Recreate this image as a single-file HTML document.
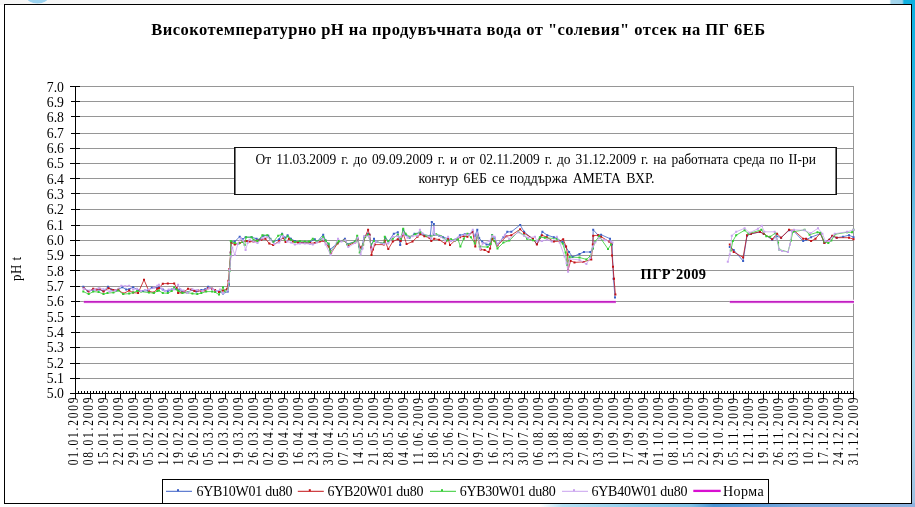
<!DOCTYPE html>
<html lang="bg"><head><meta charset="utf-8"><title>Високотемпературно рН</title>
<style>html,body{margin:0;padding:0;background:#fff;overflow:hidden}svg{display:block}text{font-family:'Liberation Serif','DejaVu Serif',serif;fill:#000}</style></head><body>
<svg width="915" height="507" viewBox="0 0 915 507">
<defs><linearGradient id="gr" x1="0" y1="0" x2="0" y2="1"><stop offset="0" stop-color="#0cb0e0"/><stop offset="0.14" stop-color="#1fb4e0"/><stop offset="0.32" stop-color="#50b0dc"/><stop offset="0.5" stop-color="#7fcbea"/><stop offset="0.71" stop-color="#a8daee"/><stop offset="0.87" stop-color="#a6d2ea"/><stop offset="1" stop-color="#9cbee0"/></linearGradient><linearGradient id="gb" x1="0" y1="0" x2="1" y2="0"><stop offset="0" stop-color="#ffffff"/><stop offset="0.59" stop-color="#ffffff"/><stop offset="0.615" stop-color="#b4e0f3"/><stop offset="0.70" stop-color="#8ccbea"/><stop offset="0.755" stop-color="#7fc2e6"/><stop offset="0.78" stop-color="#4a94d2"/><stop offset="0.82" stop-color="#5c9cd8"/><stop offset="0.87" stop-color="#7ba9dc"/><stop offset="1" stop-color="#8fb4e0"/></linearGradient><linearGradient id="gt" x1="0" y1="0" x2="1" y2="0"><stop offset="0" stop-color="#f6f6f6"/><stop offset="0.972" stop-color="#ffffff"/><stop offset="0.974" stop-color="#a6d6ec"/><stop offset="0.986" stop-color="#9dd3ec"/><stop offset="0.988" stop-color="#0fb0e0"/><stop offset="1" stop-color="#0fb0e0"/></linearGradient></defs>
<rect x="0" y="0" width="915" height="507" fill="#fff"/>
<rect x="0" y="0" width="915" height="5" fill="url(#gt)"/>
<ellipse cx="37.5" cy="-3" rx="11" ry="6.5" fill="#9bd2ef"/>
<rect x="911" y="0" width="4" height="507" fill="url(#gr)"/>
<rect x="0" y="503" width="915" height="4" fill="url(#gb)"/>
<rect x="4.5" y="4.5" width="907" height="499" fill="#fff" stroke="#000" stroke-width="1"/>
<text x="458.2" y="34.7" text-anchor="middle" font-size="16.5" font-weight="bold" textLength="614" lengthAdjust="spacing">Високотемпературно рН на продувъчната вода от "солевия" отсек на ПГ 6ЕБ</text>
<path d="M76 86.5H854M76 101.5H854M76 116.5H854M76 133.5H854M76 148.5H854M76 163.5H854M76 178.5H854M76 193.5H854M76 209.5H854M76 225.5H854M76 240.5H854M76 255.5H854M76 270.5H854M76 286.5H854M76 301.5H854M76 316.5H854M76 332.5H854M76 347.5H854M76 363.5H854M76 378.5H854M853.5 86V393" stroke="#969696" stroke-width="1" fill="none" shape-rendering="crispEdges"/>
<path d="M75.5 86V394M70 393.5H854M70 86.5H80M71 101.5H80M71 116.5H80M71 133.5H80M70 148.5H80M70 163.5H80M70 178.5H80M71 193.5H80M71 209.5H80M71 225.5H80M70 240.5H80M70 255.5H80M70 270.5H80M70 286.5H80M71 301.5H80M71 316.5H80M71 332.5H80M70 347.5H80M70 363.5H80M70 378.5H80" stroke="#000" stroke-width="1" fill="none" shape-rendering="crispEdges"/>
<path d="M78.5 391V393M81.5 391V393M84.5 391V393M87.5 391V393M93.5 391V393M96.5 391V393M99.5 391V393M102.5 391V393M108.5 391V393M111.5 391V393M114.5 391V393M117.5 391V393M123.5 391V393M126.5 391V393M129.5 391V393M132.5 391V393M138.5 391V393M141.5 391V393M144.5 391V393M147.5 391V393M153.5 391V393M156.5 391V393M159.5 391V393M162.5 391V393M168.5 391V393M171.5 391V393M174.5 391V393M177.5 391V393M183.5 391V393M186.5 391V393M189.5 391V393M192.5 391V393M198.5 391V393M201.5 391V393M204.5 391V393M207.5 391V393M213.5 391V393M216.5 391V393M219.5 391V393M222.5 391V393M228.5 391V393M231.5 391V393M234.5 391V393M237.5 391V393M243.5 391V393M246.5 391V393M249.5 391V393M252.5 391V393M258.5 391V393M261.5 391V393M264.5 391V393M267.5 391V393M272.5 391V393M275.5 391V393M278.5 391V393M281.5 391V393M287.5 391V393M290.5 391V393M293.5 391V393M296.5 391V393M302.5 391V393M305.5 391V393M308.5 391V393M311.5 391V393M317.5 391V393M320.5 391V393M323.5 391V393M326.5 391V393M332.5 391V393M335.5 391V393M338.5 391V393M341.5 391V393M347.5 391V393M350.5 391V393M353.5 391V393M356.5 391V393M362.5 391V393M365.5 391V393M368.5 391V393M371.5 391V393M377.5 391V393M380.5 391V393M383.5 391V393M386.5 391V393M392.5 391V393M395.5 391V393M398.5 391V393M401.5 391V393M407.5 391V393M410.5 391V393M413.5 391V393M416.5 391V393M422.5 391V393M425.5 391V393M428.5 391V393M431.5 391V393M437.5 391V393M440.5 391V393M443.5 391V393M446.5 391V393M452.5 391V393M455.5 391V393M458.5 391V393M461.5 391V393M467.5 391V393M470.5 391V393M473.5 391V393M476.5 391V393M482.5 391V393M485.5 391V393M488.5 391V393M491.5 391V393M497.5 391V393M500.5 391V393M503.5 391V393M506.5 391V393M512.5 391V393M515.5 391V393M518.5 391V393M521.5 391V393M527.5 391V393M530.5 391V393M533.5 391V393M536.5 391V393M542.5 391V393M545.5 391V393M548.5 391V393M551.5 391V393M557.5 391V393M560.5 391V393M563.5 391V393M566.5 391V393M572.5 391V393M575.5 391V393M578.5 391V393M581.5 391V393M587.5 391V393M590.5 391V393M593.5 391V393M596.5 391V393M602.5 391V393M605.5 391V393M608.5 391V393M611.5 391V393M617.5 391V393M620.5 391V393M623.5 391V393M626.5 391V393M632.5 391V393M635.5 391V393M638.5 391V393M641.5 391V393M647.5 391V393M650.5 391V393M653.5 391V393M656.5 391V393M661.5 391V393M664.5 391V393M667.5 391V393M670.5 391V393M676.5 391V393M679.5 391V393M682.5 391V393M685.5 391V393M691.5 391V393M694.5 391V393M697.5 391V393M700.5 391V393M706.5 391V393M709.5 391V393M712.5 391V393M715.5 391V393M721.5 391V393M724.5 391V393M727.5 391V393M730.5 391V393M736.5 391V393M739.5 391V393M742.5 391V393M745.5 391V393M751.5 391V393M754.5 391V393M757.5 391V393M760.5 391V393M766.5 391V393M769.5 391V393M772.5 391V393M775.5 391V393M781.5 391V393M784.5 391V393M787.5 391V393M790.5 391V393M796.5 391V393M799.5 391V393M802.5 391V393M805.5 391V393M811.5 391V393M814.5 391V393M817.5 391V393M820.5 391V393M826.5 391V393M829.5 391V393M832.5 391V393M835.5 391V393M841.5 391V393M844.5 391V393M847.5 391V393M850.5 391V393" stroke="#000" stroke-width="1" fill="none" shape-rendering="crispEdges"/>
<path d="M75.5 391V399M90.5 391V399M105.5 391V399M120.5 391V399M135.5 391V399M150.5 391V399M165.5 391V399M180.5 391V399M195.5 391V399M210.5 391V399M225.5 391V399M240.5 391V399M255.5 391V399M270.5 391V399M284.5 391V399M299.5 391V399M314.5 391V399M329.5 391V399M344.5 391V399M359.5 391V399M374.5 391V399M389.5 391V399M404.5 391V399M419.5 391V399M434.5 391V399M449.5 391V399M464.5 391V399M479.5 391V399M494.5 391V399M509.5 391V399M524.5 391V399M539.5 391V399M554.5 391V399M569.5 391V399M584.5 391V399M599.5 391V399M614.5 391V399M629.5 391V399M644.5 391V399M659.5 391V399M673.5 391V399M688.5 391V399M703.5 391V399M718.5 391V399M733.5 391V399M748.5 391V399M763.5 391V399M778.5 391V399M793.5 391V399M808.5 391V399M823.5 391V399M838.5 391V399M853.5 391V399" stroke="#000" stroke-width="1" fill="none" shape-rendering="crispEdges"/>
<g font-size="14.2" text-anchor="end">
<text transform="translate(64.0 91.7) scale(0.97 1)">7.0</text>
<text transform="translate(64.0 107.0) scale(0.97 1)">6.9</text>
<text transform="translate(64.0 122.3) scale(0.97 1)">6.8</text>
<text transform="translate(64.0 137.7) scale(0.97 1)">6.7</text>
<text transform="translate(64.0 153.0) scale(0.97 1)">6.6</text>
<text transform="translate(64.0 168.3) scale(0.97 1)">6.5</text>
<text transform="translate(64.0 183.6) scale(0.97 1)">6.4</text>
<text transform="translate(64.0 199.0) scale(0.97 1)">6.3</text>
<text transform="translate(64.0 214.3) scale(0.97 1)">6.2</text>
<text transform="translate(64.0 229.6) scale(0.97 1)">6.1</text>
<text transform="translate(64.0 244.9) scale(0.97 1)">6.0</text>
<text transform="translate(64.0 260.3) scale(0.97 1)">5.9</text>
<text transform="translate(64.0 275.6) scale(0.97 1)">5.8</text>
<text transform="translate(64.0 290.9) scale(0.97 1)">5.7</text>
<text transform="translate(64.0 306.2) scale(0.97 1)">5.6</text>
<text transform="translate(64.0 321.6) scale(0.97 1)">5.5</text>
<text transform="translate(64.0 336.9) scale(0.97 1)">5.4</text>
<text transform="translate(64.0 352.2) scale(0.97 1)">5.3</text>
<text transform="translate(64.0 367.5) scale(0.97 1)">5.2</text>
<text transform="translate(64.0 382.9) scale(0.97 1)">5.1</text>
<text transform="translate(64.0 398.2) scale(0.97 1)">5.0</text>
</g>
<text transform="translate(21.3 281) rotate(-90) scale(0.88 1)" font-size="14.667" letter-spacing="0.6">pH t</text>
<g font-size="13.6">
<text transform="translate(78.30 465.2) rotate(-90) scale(0.84 1)" letter-spacing="2.15">01.01.2009</text>
<text transform="translate(93.29 465.2) rotate(-90) scale(0.84 1)" letter-spacing="2.15">08.01.2009</text>
<text transform="translate(108.28 465.2) rotate(-90) scale(0.84 1)" letter-spacing="2.15">15.01.2009</text>
<text transform="translate(123.27 465.2) rotate(-90) scale(0.84 1)" letter-spacing="2.15">22.01.2009</text>
<text transform="translate(138.25 465.2) rotate(-90) scale(0.84 1)" letter-spacing="2.15">29.01.2009</text>
<text transform="translate(153.24 465.2) rotate(-90) scale(0.84 1)" letter-spacing="2.15">05.02.2009</text>
<text transform="translate(168.23 465.2) rotate(-90) scale(0.84 1)" letter-spacing="2.15">12.02.2009</text>
<text transform="translate(183.22 465.2) rotate(-90) scale(0.84 1)" letter-spacing="2.15">19.02.2009</text>
<text transform="translate(198.21 465.2) rotate(-90) scale(0.84 1)" letter-spacing="2.15">26.02.2009</text>
<text transform="translate(213.20 465.2) rotate(-90) scale(0.84 1)" letter-spacing="2.15">05.03.2009</text>
<text transform="translate(228.19 465.2) rotate(-90) scale(0.84 1)" letter-spacing="2.15">12.03.2009</text>
<text transform="translate(243.17 465.2) rotate(-90) scale(0.84 1)" letter-spacing="2.15">19.03.2009</text>
<text transform="translate(258.16 465.2) rotate(-90) scale(0.84 1)" letter-spacing="2.15">26.03.2009</text>
<text transform="translate(273.15 465.2) rotate(-90) scale(0.84 1)" letter-spacing="2.15">02.04.2009</text>
<text transform="translate(288.14 465.2) rotate(-90) scale(0.84 1)" letter-spacing="2.15">09.04.2009</text>
<text transform="translate(303.13 465.2) rotate(-90) scale(0.84 1)" letter-spacing="2.15">16.04.2009</text>
<text transform="translate(318.12 465.2) rotate(-90) scale(0.84 1)" letter-spacing="2.15">23.04.2009</text>
<text transform="translate(333.11 465.2) rotate(-90) scale(0.84 1)" letter-spacing="2.15">30.04.2009</text>
<text transform="translate(348.09 465.2) rotate(-90) scale(0.84 1)" letter-spacing="2.15">07.05.2009</text>
<text transform="translate(363.08 465.2) rotate(-90) scale(0.84 1)" letter-spacing="2.15">14.05.2009</text>
<text transform="translate(378.07 465.2) rotate(-90) scale(0.84 1)" letter-spacing="2.15">21.05.2009</text>
<text transform="translate(393.06 465.2) rotate(-90) scale(0.84 1)" letter-spacing="2.15">28.05.2009</text>
<text transform="translate(408.05 465.2) rotate(-90) scale(0.84 1)" letter-spacing="2.15">04.06.2009</text>
<text transform="translate(423.04 465.2) rotate(-90) scale(0.84 1)" letter-spacing="2.15">11.06.2009</text>
<text transform="translate(438.02 465.2) rotate(-90) scale(0.84 1)" letter-spacing="2.15">18.06.2009</text>
<text transform="translate(453.01 465.2) rotate(-90) scale(0.84 1)" letter-spacing="2.15">25.06.2009</text>
<text transform="translate(468.00 465.2) rotate(-90) scale(0.84 1)" letter-spacing="2.15">02.07.2009</text>
<text transform="translate(482.99 465.2) rotate(-90) scale(0.84 1)" letter-spacing="2.15">09.07.2009</text>
<text transform="translate(497.98 465.2) rotate(-90) scale(0.84 1)" letter-spacing="2.15">16.07.2009</text>
<text transform="translate(512.97 465.2) rotate(-90) scale(0.84 1)" letter-spacing="2.15">23.07.2009</text>
<text transform="translate(527.96 465.2) rotate(-90) scale(0.84 1)" letter-spacing="2.15">30.07.2009</text>
<text transform="translate(542.94 465.2) rotate(-90) scale(0.84 1)" letter-spacing="2.15">06.08.2009</text>
<text transform="translate(557.93 465.2) rotate(-90) scale(0.84 1)" letter-spacing="2.15">13.08.2009</text>
<text transform="translate(572.92 465.2) rotate(-90) scale(0.84 1)" letter-spacing="2.15">20.08.2009</text>
<text transform="translate(587.91 465.2) rotate(-90) scale(0.84 1)" letter-spacing="2.15">27.08.2009</text>
<text transform="translate(602.90 465.2) rotate(-90) scale(0.84 1)" letter-spacing="2.15">03.09.2009</text>
<text transform="translate(617.89 465.2) rotate(-90) scale(0.84 1)" letter-spacing="2.15">10.09.2009</text>
<text transform="translate(632.88 465.2) rotate(-90) scale(0.84 1)" letter-spacing="2.15">17.09.2009</text>
<text transform="translate(647.86 465.2) rotate(-90) scale(0.84 1)" letter-spacing="2.15">24.09.2009</text>
<text transform="translate(662.85 465.2) rotate(-90) scale(0.84 1)" letter-spacing="2.15">01.10.2009</text>
<text transform="translate(677.84 465.2) rotate(-90) scale(0.84 1)" letter-spacing="2.15">08.10.2009</text>
<text transform="translate(692.83 465.2) rotate(-90) scale(0.84 1)" letter-spacing="2.15">15.10.2009</text>
<text transform="translate(707.82 465.2) rotate(-90) scale(0.84 1)" letter-spacing="2.15">22.10.2009</text>
<text transform="translate(722.81 465.2) rotate(-90) scale(0.84 1)" letter-spacing="2.15">29.10.2009</text>
<text transform="translate(737.80 465.2) rotate(-90) scale(0.84 1)" letter-spacing="2.15">05.11.2009</text>
<text transform="translate(752.78 465.2) rotate(-90) scale(0.84 1)" letter-spacing="2.15">12.11.2009</text>
<text transform="translate(767.77 465.2) rotate(-90) scale(0.84 1)" letter-spacing="2.15">19.11.2009</text>
<text transform="translate(782.76 465.2) rotate(-90) scale(0.84 1)" letter-spacing="2.15">26.11.2009</text>
<text transform="translate(797.75 465.2) rotate(-90) scale(0.84 1)" letter-spacing="2.15">03.12.2009</text>
<text transform="translate(812.74 465.2) rotate(-90) scale(0.84 1)" letter-spacing="2.15">10.12.2009</text>
<text transform="translate(827.73 465.2) rotate(-90) scale(0.84 1)" letter-spacing="2.15">17.12.2009</text>
<text transform="translate(842.72 465.2) rotate(-90) scale(0.84 1)" letter-spacing="2.15">24.12.2009</text>
<text transform="translate(857.70 465.2) rotate(-90) scale(0.84 1)" letter-spacing="2.15">31.12.2009</text>
</g>
<path d="M83.8 301.85H615.9M729.8 301.85H854" stroke="#fbe3fb" stroke-width="4" fill="none"/>
<path d="M83.8 301.85H615.9M729.8 301.85H854" stroke="#c21fc2" stroke-width="1.9" fill="none"/>
<path d="M83.3 286.7L87.8 291.1L92.7 290.1L98.6 289.6L103.5 291.1L108.0 286.7L111.4 289.6L116.3 290.6L122.3 287.2L126.2 289.6L129.2 289.2L133.1 287.2L138.1 290.1L143.0 291.1L147.9 290.6L151.8 287.7L157.3 287.7L158.9 287.2L162.8 289.6L167.8 291.1L171.7 289.6L175.6 288.7L179.6 289.6L182.5 291.6L187.5 292.6L191.4 290.1L196.3 291.6L201.3 290.1L205.2 289.2L208.2 286.7L212.1 288.7L216.1 291.1L219.0 291.6L223.0 293.6L227.9 291.6L228.9 284.7L230.7 252.5L231.3 242.1L234.8 241.6L239.7 236.7L242.7 239.2L245.6 237.2L251.6 237.2L256.5 238.7L259.4 239.7L263.4 235.7L268.3 235.7L270.3 238.7L273.2 242.1L279.2 239.2L282.1 233.7L285.1 237.7L287.6 235.2L291.0 238.7L294.9 241.1L298.9 242.1L304.8 242.6L309.9 242.1L314.8 239.2L316.8 242.1L323.2 234.7L325.6 240.6L328.6 244.6L330.1 249.5L337.5 243.1L341.4 241.1L344.9 238.7L347.3 244.1L355.2 241.6L357.7 238.7L359.2 246.6L361.6 248.5L364.1 236.7L368.1 233.7L369.5 234.7L371.0 246.6L374.0 238.7L375.9 241.6L383.8 243.6L385.3 237.7L388.3 241.6L393.8 233.7L397.8 232.3L400.2 245.1L403.2 229.8L405.6 234.7L409.6 237.7L414.5 233.7L419.4 232.8L424.4 235.2L430.3 235.7L431.8 221.9L433.8 223.9L434.2 234.7L439.2 235.7L443.1 237.2L448.1 238.7L451.0 240.6L454.9 239.7L459.9 235.2L464.8 234.2L468.9 234.2L472.8 231.8L474.8 236.2L477.3 229.8L479.2 238.2L482.2 241.6L486.6 244.6L489.6 244.6L492.1 235.2L494.5 237.7L497.5 244.6L503.4 237.2L507.3 231.8L511.3 231.8L520.2 224.9L524.1 231.8L533.0 239.2L536.9 244.1L539.9 237.7L542.4 231.8L547.3 235.2L553.8 237.2L556.8 238.2L562.7 242.1L565.6 246.6L569.1 252.0L572.5 256.9L579.5 253.9L583.9 252.0L590.3 252.0L592.8 248.5L593.2 229.8L598.2 235.2L601.1 234.7L610.0 238.7L612.0 244.6L613.5 278.7L615.0 297.4" stroke="#3b5fc6" stroke-width="0.8" fill="none" stroke-linejoin="round"/>
<path d="M82.3 285.7h2v2h-2zM86.8 290.1h2v2h-2zM91.7 289.1h2v2h-2zM97.6 288.6h2v2h-2zM102.5 290.1h2v2h-2zM107.0 285.7h2v2h-2zM110.4 288.6h2v2h-2zM115.3 289.6h2v2h-2zM121.3 286.2h2v2h-2zM125.2 288.6h2v2h-2zM128.2 288.2h2v2h-2zM132.1 286.2h2v2h-2zM137.1 289.1h2v2h-2zM142.0 290.1h2v2h-2zM146.9 289.6h2v2h-2zM150.8 286.7h2v2h-2zM156.3 286.7h2v2h-2zM157.9 286.2h2v2h-2zM161.8 288.6h2v2h-2zM166.8 290.1h2v2h-2zM170.7 288.6h2v2h-2zM174.6 287.7h2v2h-2zM178.6 288.6h2v2h-2zM181.5 290.6h2v2h-2zM186.5 291.6h2v2h-2zM190.4 289.1h2v2h-2zM195.3 290.6h2v2h-2zM200.3 289.1h2v2h-2zM204.2 288.2h2v2h-2zM207.2 285.7h2v2h-2zM211.1 287.7h2v2h-2zM215.1 290.1h2v2h-2zM218.0 290.6h2v2h-2zM222.0 292.6h2v2h-2zM226.9 290.6h2v2h-2zM227.9 283.7h2v2h-2zM229.7 251.5h2v2h-2zM230.3 241.1h2v2h-2zM233.8 240.6h2v2h-2zM238.7 235.7h2v2h-2zM241.7 238.2h2v2h-2zM244.6 236.2h2v2h-2zM250.6 236.2h2v2h-2zM255.5 237.7h2v2h-2zM258.4 238.7h2v2h-2zM262.4 234.7h2v2h-2zM267.3 234.7h2v2h-2zM269.3 237.7h2v2h-2zM272.2 241.1h2v2h-2zM278.2 238.2h2v2h-2zM281.1 232.7h2v2h-2zM284.1 236.7h2v2h-2zM286.6 234.2h2v2h-2zM290.0 237.7h2v2h-2zM293.9 240.1h2v2h-2zM297.9 241.1h2v2h-2zM303.8 241.6h2v2h-2zM308.9 241.1h2v2h-2zM313.8 238.2h2v2h-2zM315.8 241.1h2v2h-2zM322.2 233.7h2v2h-2zM324.6 239.6h2v2h-2zM327.6 243.6h2v2h-2zM329.1 248.5h2v2h-2zM336.5 242.1h2v2h-2zM340.4 240.1h2v2h-2zM343.9 237.7h2v2h-2zM346.3 243.1h2v2h-2zM354.2 240.6h2v2h-2zM356.7 237.7h2v2h-2zM358.2 245.6h2v2h-2zM360.6 247.5h2v2h-2zM363.1 235.7h2v2h-2zM367.1 232.7h2v2h-2zM368.5 233.7h2v2h-2zM370.0 245.6h2v2h-2zM373.0 237.7h2v2h-2zM374.9 240.6h2v2h-2zM382.8 242.6h2v2h-2zM384.3 236.7h2v2h-2zM387.3 240.6h2v2h-2zM392.8 232.7h2v2h-2zM396.8 231.3h2v2h-2zM399.2 244.1h2v2h-2zM402.2 228.8h2v2h-2zM404.6 233.7h2v2h-2zM408.6 236.7h2v2h-2zM413.5 232.7h2v2h-2zM418.4 231.8h2v2h-2zM423.4 234.2h2v2h-2zM429.3 234.7h2v2h-2zM430.8 220.9h2v2h-2zM432.8 222.9h2v2h-2zM433.2 233.7h2v2h-2zM438.2 234.7h2v2h-2zM442.1 236.2h2v2h-2zM447.1 237.7h2v2h-2zM450.0 239.6h2v2h-2zM453.9 238.7h2v2h-2zM458.9 234.2h2v2h-2zM463.8 233.2h2v2h-2zM467.9 233.2h2v2h-2zM471.8 230.8h2v2h-2zM473.8 235.2h2v2h-2zM476.3 228.8h2v2h-2zM478.2 237.2h2v2h-2zM481.2 240.6h2v2h-2zM485.6 243.6h2v2h-2zM488.6 243.6h2v2h-2zM491.1 234.2h2v2h-2zM493.5 236.7h2v2h-2zM496.5 243.6h2v2h-2zM502.4 236.2h2v2h-2zM506.3 230.8h2v2h-2zM510.3 230.8h2v2h-2zM519.2 223.9h2v2h-2zM523.1 230.8h2v2h-2zM532.0 238.2h2v2h-2zM535.9 243.1h2v2h-2zM538.9 236.7h2v2h-2zM541.4 230.8h2v2h-2zM546.3 234.2h2v2h-2zM552.8 236.2h2v2h-2zM555.8 237.2h2v2h-2zM561.7 241.1h2v2h-2zM564.6 245.6h2v2h-2zM568.1 251.0h2v2h-2zM571.5 255.9h2v2h-2zM578.5 252.9h2v2h-2zM582.9 251.0h2v2h-2zM589.3 251.0h2v2h-2zM591.8 247.5h2v2h-2zM592.2 228.8h2v2h-2zM597.2 234.2h2v2h-2zM600.1 233.7h2v2h-2zM609.0 237.7h2v2h-2zM611.0 243.6h2v2h-2zM612.5 277.7h2v2h-2zM614.0 296.4h2v2h-2z" fill="#3b5fc6"/>
<path d="M729.8 247.1L733.7 250.0L743.1 260.9L747.0 235.7L751.0 233.9L759.9 232.0L763.8 233.9L772.2 239.7L776.6 236.2L781.1 237.7L789.0 230.3L793.9 231.3L803.2 241.1L806.1 239.7L811.1 237.2L820.4 233.7L824.4 243.1L832.3 236.2L836.7 237.7L843.1 236.7L849.0 235.2L853.5 237.2" stroke="#3b5fc6" stroke-width="0.8" fill="none" stroke-linejoin="round"/>
<path d="M728.8 246.1h2v2h-2zM732.7 249.0h2v2h-2zM742.1 259.9h2v2h-2zM746.0 234.7h2v2h-2zM750.0 232.9h2v2h-2zM758.9 231.0h2v2h-2zM762.8 232.9h2v2h-2zM771.2 238.7h2v2h-2zM775.6 235.2h2v2h-2zM780.1 236.7h2v2h-2zM788.0 229.3h2v2h-2zM792.9 230.3h2v2h-2zM802.2 240.1h2v2h-2zM805.1 238.7h2v2h-2zM810.1 236.2h2v2h-2zM819.4 232.7h2v2h-2zM823.4 242.1h2v2h-2zM831.3 235.2h2v2h-2zM835.7 236.7h2v2h-2zM842.1 235.7h2v2h-2zM848.0 234.2h2v2h-2zM852.5 236.2h2v2h-2z" fill="#3b5fc6"/>
<path d="M83.8 288.2L88.7 291.6L93.2 288.7L96.6 289.6L99.6 288.7L103.5 291.6L108.5 288.2L113.4 290.1L118.3 289.6L123.2 293.6L129.2 290.6L133.1 292.6L138.1 293.1L144.0 279.8L148.9 291.1L153.8 292.6L157.3 288.7L158.9 288.2L162.8 283.7L167.8 283.5L174.2 283.5L176.6 287.7L178.1 293.1L181.6 292.6L184.5 291.6L188.0 288.7L191.4 289.6L194.4 291.1L198.3 290.6L201.3 291.1L205.2 290.6L208.2 288.2L212.1 288.7L215.1 290.1L219.0 292.1L223.0 290.6L226.9 289.2L228.4 280.8L229.4 268.9L230.7 252.5L231.1 242.6L234.8 244.6L239.7 243.1L242.7 241.6L246.6 241.1L249.6 241.6L253.5 241.6L257.5 240.6L261.4 239.7L265.4 238.7L269.3 243.6L273.2 245.1L279.2 241.1L283.1 237.7L285.6 242.1L289.0 238.7L293.0 241.6L297.9 242.6L304.8 243.1L309.9 243.1L314.8 243.1L319.7 241.6L323.7 241.1L328.6 246.6L331.1 253.0L337.5 243.6L339.4 241.1L344.4 240.6L348.3 245.6L355.2 242.1L357.7 239.2L360.2 247.5L363.1 244.6L365.1 236.7L368.1 229.8L369.5 234.7L371.0 247.5L371.5 254.9L373.0 249.5L374.9 244.6L383.8 244.6L384.8 240.6L388.3 249.0L392.8 241.6L397.8 239.2L400.7 241.1L403.2 233.7L406.6 244.1L412.5 241.6L417.5 236.7L420.4 234.2L424.4 236.2L429.3 237.7L431.3 241.1L434.2 238.7L439.2 239.7L445.1 243.6L448.1 238.7L450.0 245.1L454.9 240.6L459.9 237.2L463.8 236.2L467.4 236.7L472.8 231.8L475.3 246.6L477.3 234.7L480.7 249.5L484.6 250.0L488.6 252.0L490.1 248.5L492.1 238.7L494.5 241.1L497.5 245.6L506.4 236.2L511.3 235.2L520.2 229.3L524.1 233.2L533.0 238.7L536.9 244.6L541.9 235.2L546.8 237.2L553.8 241.6L559.7 241.1L563.2 239.2L566.1 246.6L567.6 254.4L568.1 269.8L570.6 260.9L574.5 262.4L583.4 261.9L591.3 259.4L592.8 244.6L593.2 235.7L598.2 235.2L601.1 236.7L609.0 241.6L611.5 243.6L612.0 255.4L613.0 266.8L614.0 278.7L615.4 294.4" stroke="#c41216" stroke-width="0.8" fill="none" stroke-linejoin="round"/>
<path d="M82.8 287.2h2v2h-2zM87.7 290.6h2v2h-2zM92.2 287.7h2v2h-2zM95.6 288.6h2v2h-2zM98.6 287.7h2v2h-2zM102.5 290.6h2v2h-2zM107.5 287.2h2v2h-2zM112.4 289.1h2v2h-2zM117.3 288.6h2v2h-2zM122.2 292.6h2v2h-2zM128.2 289.6h2v2h-2zM132.1 291.6h2v2h-2zM137.1 292.1h2v2h-2zM143.0 278.8h2v2h-2zM147.9 290.1h2v2h-2zM152.8 291.6h2v2h-2zM156.3 287.7h2v2h-2zM157.9 287.2h2v2h-2zM161.8 282.7h2v2h-2zM166.8 282.5h2v2h-2zM173.2 282.5h2v2h-2zM175.6 286.7h2v2h-2zM177.1 292.1h2v2h-2zM180.6 291.6h2v2h-2zM183.5 290.6h2v2h-2zM187.0 287.7h2v2h-2zM190.4 288.6h2v2h-2zM193.4 290.1h2v2h-2zM197.3 289.6h2v2h-2zM200.3 290.1h2v2h-2zM204.2 289.6h2v2h-2zM207.2 287.2h2v2h-2zM211.1 287.7h2v2h-2zM214.1 289.1h2v2h-2zM218.0 291.1h2v2h-2zM222.0 289.6h2v2h-2zM225.9 288.2h2v2h-2zM227.4 279.8h2v2h-2zM228.4 267.9h2v2h-2zM229.7 251.5h2v2h-2zM230.1 241.6h2v2h-2zM233.8 243.6h2v2h-2zM238.7 242.1h2v2h-2zM241.7 240.6h2v2h-2zM245.6 240.1h2v2h-2zM248.6 240.6h2v2h-2zM252.5 240.6h2v2h-2zM256.5 239.6h2v2h-2zM260.4 238.7h2v2h-2zM264.4 237.7h2v2h-2zM268.3 242.6h2v2h-2zM272.2 244.1h2v2h-2zM278.2 240.1h2v2h-2zM282.1 236.7h2v2h-2zM284.6 241.1h2v2h-2zM288.0 237.7h2v2h-2zM292.0 240.6h2v2h-2zM296.9 241.6h2v2h-2zM303.8 242.1h2v2h-2zM308.9 242.1h2v2h-2zM313.8 242.1h2v2h-2zM318.7 240.6h2v2h-2zM322.7 240.1h2v2h-2zM327.6 245.6h2v2h-2zM330.1 252.0h2v2h-2zM336.5 242.6h2v2h-2zM338.4 240.1h2v2h-2zM343.4 239.6h2v2h-2zM347.3 244.6h2v2h-2zM354.2 241.1h2v2h-2zM356.7 238.2h2v2h-2zM359.2 246.5h2v2h-2zM362.1 243.6h2v2h-2zM364.1 235.7h2v2h-2zM367.1 228.8h2v2h-2zM368.5 233.7h2v2h-2zM370.0 246.5h2v2h-2zM370.5 253.9h2v2h-2zM372.0 248.5h2v2h-2zM373.9 243.6h2v2h-2zM382.8 243.6h2v2h-2zM383.8 239.6h2v2h-2zM387.3 248.0h2v2h-2zM391.8 240.6h2v2h-2zM396.8 238.2h2v2h-2zM399.7 240.1h2v2h-2zM402.2 232.7h2v2h-2zM405.6 243.1h2v2h-2zM411.5 240.6h2v2h-2zM416.5 235.7h2v2h-2zM419.4 233.2h2v2h-2zM423.4 235.2h2v2h-2zM428.3 236.7h2v2h-2zM430.3 240.1h2v2h-2zM433.2 237.7h2v2h-2zM438.2 238.7h2v2h-2zM444.1 242.6h2v2h-2zM447.1 237.7h2v2h-2zM449.0 244.1h2v2h-2zM453.9 239.6h2v2h-2zM458.9 236.2h2v2h-2zM462.8 235.2h2v2h-2zM466.4 235.7h2v2h-2zM471.8 230.8h2v2h-2zM474.3 245.6h2v2h-2zM476.3 233.7h2v2h-2zM479.7 248.5h2v2h-2zM483.6 249.0h2v2h-2zM487.6 251.0h2v2h-2zM489.1 247.5h2v2h-2zM491.1 237.7h2v2h-2zM493.5 240.1h2v2h-2zM496.5 244.6h2v2h-2zM505.4 235.2h2v2h-2zM510.3 234.2h2v2h-2zM519.2 228.3h2v2h-2zM523.1 232.2h2v2h-2zM532.0 237.7h2v2h-2zM535.9 243.6h2v2h-2zM540.9 234.2h2v2h-2zM545.8 236.2h2v2h-2zM552.8 240.6h2v2h-2zM558.7 240.1h2v2h-2zM562.2 238.2h2v2h-2zM565.1 245.6h2v2h-2zM566.6 253.4h2v2h-2zM567.1 268.8h2v2h-2zM569.6 259.9h2v2h-2zM573.5 261.4h2v2h-2zM582.4 260.9h2v2h-2zM590.3 258.4h2v2h-2zM591.8 243.6h2v2h-2zM592.2 234.7h2v2h-2zM597.2 234.2h2v2h-2zM600.1 235.7h2v2h-2zM608.0 240.6h2v2h-2zM610.5 242.6h2v2h-2zM611.0 254.4h2v2h-2zM612.0 265.8h2v2h-2zM613.0 277.7h2v2h-2zM614.4 293.4h2v2h-2z" fill="#c41216"/>
<path d="M729.8 244.6L733.7 252.0L743.1 257.4L747.0 235.2L751.0 233.7L759.9 231.8L763.8 233.7L772.2 239.2L777.1 233.7L781.1 237.7L789.0 229.8L793.9 230.3L803.2 238.7L806.1 238.7L811.1 241.1L815.5 238.7L820.4 233.2L824.4 243.1L829.3 239.7L832.3 235.7L836.7 237.7L849.0 237.7L853.5 239.2" stroke="#c41216" stroke-width="0.8" fill="none" stroke-linejoin="round"/>
<path d="M728.8 243.6h2v2h-2zM732.7 251.0h2v2h-2zM742.1 256.4h2v2h-2zM746.0 234.2h2v2h-2zM750.0 232.7h2v2h-2zM758.9 230.8h2v2h-2zM762.8 232.7h2v2h-2zM771.2 238.2h2v2h-2zM776.1 232.7h2v2h-2zM780.1 236.7h2v2h-2zM788.0 228.8h2v2h-2zM792.9 229.3h2v2h-2zM802.2 237.7h2v2h-2zM805.1 237.7h2v2h-2zM810.1 240.1h2v2h-2zM814.5 237.7h2v2h-2zM819.4 232.2h2v2h-2zM823.4 242.1h2v2h-2zM828.3 238.7h2v2h-2zM831.3 234.7h2v2h-2zM835.7 236.7h2v2h-2zM848.0 236.7h2v2h-2zM852.5 238.2h2v2h-2z" fill="#c41216"/>
<path d="M83.3 291.6L88.7 294.1L93.2 291.6L98.6 292.1L103.5 294.1L107.5 293.1L113.4 292.6L118.3 290.6L123.2 294.1L129.2 293.6L133.1 292.6L137.1 291.1L141.0 291.6L148.9 292.6L153.8 293.1L157.3 291.1L158.9 290.6L162.8 293.1L167.8 293.1L171.7 291.1L174.2 287.2L176.6 289.6L178.6 291.1L182.5 293.1L187.5 292.6L192.4 293.6L197.3 294.1L201.3 293.1L206.2 291.6L212.1 291.6L215.1 292.1L219.0 294.6L223.0 287.2L224.9 291.6L227.9 290.1L228.9 282.8L229.5 270.9L230.7 254.4L230.8 241.1L234.8 243.1L238.7 243.6L242.7 242.1L244.7 245.1L246.1 237.2L251.6 237.2L253.5 239.7L257.5 241.1L262.4 235.2L267.3 235.2L270.3 239.2L273.2 242.1L278.2 235.7L282.1 234.2L285.1 239.7L287.6 236.2L291.0 239.7L294.9 242.1L299.9 241.1L304.8 241.6L308.9 241.6L312.8 238.7L316.8 241.6L320.7 239.7L323.2 236.7L325.6 240.6L328.6 243.6L330.1 252.5L337.5 242.6L338.9 241.1L344.4 240.6L347.3 244.6L355.2 241.6L357.2 235.7L359.7 252.5L363.1 244.6L365.1 236.7L368.1 234.7L371.0 244.6L374.0 241.1L383.8 243.6L384.8 236.7L388.3 241.1L392.8 238.7L397.8 234.7L400.7 238.7L403.2 228.8L405.6 233.7L409.6 236.7L415.5 234.2L420.4 232.3L426.4 235.7L431.3 236.2L436.2 234.2L441.1 236.2L447.1 240.6L451.0 239.2L454.9 240.6L457.9 239.2L460.4 246.6L463.8 238.7L467.4 233.7L470.9 237.2L474.8 243.6L477.3 235.2L479.7 246.6L487.6 247.1L490.6 244.1L492.1 235.2L494.5 241.1L497.5 248.5L503.4 242.6L509.3 240.6L518.2 231.8L524.1 235.2L527.1 238.7L533.0 240.2L536.9 241.1L539.9 237.2L544.8 237.7L556.8 238.7L562.7 243.6L565.6 252.5L567.1 264.9L569.6 257.0L579.5 257.5L586.4 259.4L590.3 256.0L592.8 248.5L595.2 241.6L599.2 236.2L608.0 249.0L611.0 244.6" stroke="#33cc33" stroke-width="0.8" fill="none" stroke-linejoin="round"/>
<path d="M82.3 290.6h2v2h-2zM87.7 293.1h2v2h-2zM92.2 290.6h2v2h-2zM97.6 291.1h2v2h-2zM102.5 293.1h2v2h-2zM106.5 292.1h2v2h-2zM112.4 291.6h2v2h-2zM117.3 289.6h2v2h-2zM122.2 293.1h2v2h-2zM128.2 292.6h2v2h-2zM132.1 291.6h2v2h-2zM136.1 290.1h2v2h-2zM140.0 290.6h2v2h-2zM147.9 291.6h2v2h-2zM152.8 292.1h2v2h-2zM156.3 290.1h2v2h-2zM157.9 289.6h2v2h-2zM161.8 292.1h2v2h-2zM166.8 292.1h2v2h-2zM170.7 290.1h2v2h-2zM173.2 286.2h2v2h-2zM175.6 288.6h2v2h-2zM177.6 290.1h2v2h-2zM181.5 292.1h2v2h-2zM186.5 291.6h2v2h-2zM191.4 292.6h2v2h-2zM196.3 293.1h2v2h-2zM200.3 292.1h2v2h-2zM205.2 290.6h2v2h-2zM211.1 290.6h2v2h-2zM214.1 291.1h2v2h-2zM218.0 293.6h2v2h-2zM222.0 286.2h2v2h-2zM223.9 290.6h2v2h-2zM226.9 289.1h2v2h-2zM227.9 281.8h2v2h-2zM228.5 269.9h2v2h-2zM229.7 253.4h2v2h-2zM229.8 240.1h2v2h-2zM233.8 242.1h2v2h-2zM237.7 242.6h2v2h-2zM241.7 241.1h2v2h-2zM243.7 244.1h2v2h-2zM245.1 236.2h2v2h-2zM250.6 236.2h2v2h-2zM252.5 238.7h2v2h-2zM256.5 240.1h2v2h-2zM261.4 234.2h2v2h-2zM266.3 234.2h2v2h-2zM269.3 238.2h2v2h-2zM272.2 241.1h2v2h-2zM277.2 234.7h2v2h-2zM281.1 233.2h2v2h-2zM284.1 238.7h2v2h-2zM286.6 235.2h2v2h-2zM290.0 238.7h2v2h-2zM293.9 241.1h2v2h-2zM298.9 240.1h2v2h-2zM303.8 240.6h2v2h-2zM307.9 240.6h2v2h-2zM311.8 237.7h2v2h-2zM315.8 240.6h2v2h-2zM319.7 238.7h2v2h-2zM322.2 235.7h2v2h-2zM324.6 239.6h2v2h-2zM327.6 242.6h2v2h-2zM329.1 251.5h2v2h-2zM336.5 241.6h2v2h-2zM337.9 240.1h2v2h-2zM343.4 239.6h2v2h-2zM346.3 243.6h2v2h-2zM354.2 240.6h2v2h-2zM356.2 234.7h2v2h-2zM358.7 251.5h2v2h-2zM362.1 243.6h2v2h-2zM364.1 235.7h2v2h-2zM367.1 233.7h2v2h-2zM370.0 243.6h2v2h-2zM373.0 240.1h2v2h-2zM382.8 242.6h2v2h-2zM383.8 235.7h2v2h-2zM387.3 240.1h2v2h-2zM391.8 237.7h2v2h-2zM396.8 233.7h2v2h-2zM399.7 237.7h2v2h-2zM402.2 227.8h2v2h-2zM404.6 232.7h2v2h-2zM408.6 235.7h2v2h-2zM414.5 233.2h2v2h-2zM419.4 231.3h2v2h-2zM425.4 234.7h2v2h-2zM430.3 235.2h2v2h-2zM435.2 233.2h2v2h-2zM440.1 235.2h2v2h-2zM446.1 239.6h2v2h-2zM450.0 238.2h2v2h-2zM453.9 239.6h2v2h-2zM456.9 238.2h2v2h-2zM459.4 245.6h2v2h-2zM462.8 237.7h2v2h-2zM466.4 232.7h2v2h-2zM469.9 236.2h2v2h-2zM473.8 242.6h2v2h-2zM476.3 234.2h2v2h-2zM478.7 245.6h2v2h-2zM486.6 246.1h2v2h-2zM489.6 243.1h2v2h-2zM491.1 234.2h2v2h-2zM493.5 240.1h2v2h-2zM496.5 247.5h2v2h-2zM502.4 241.6h2v2h-2zM508.3 239.6h2v2h-2zM517.2 230.8h2v2h-2zM523.1 234.2h2v2h-2zM526.1 237.7h2v2h-2zM532.0 239.2h2v2h-2zM535.9 240.1h2v2h-2zM538.9 236.2h2v2h-2zM543.8 236.7h2v2h-2zM555.8 237.7h2v2h-2zM561.7 242.6h2v2h-2zM564.6 251.5h2v2h-2zM566.1 263.9h2v2h-2zM568.6 256.0h2v2h-2zM578.5 256.5h2v2h-2zM585.4 258.4h2v2h-2zM589.3 255.0h2v2h-2zM591.8 247.5h2v2h-2zM594.2 240.6h2v2h-2zM598.2 235.2h2v2h-2zM607.0 248.0h2v2h-2zM610.0 243.6h2v2h-2z" fill="#33cc33"/>
<path d="M730.8 250.5L732.8 241.1L736.2 235.2L744.6 230.3L748.5 233.7L761.4 229.8L766.3 236.2L770.2 236.7L775.2 233.2L778.1 242.6L779.1 249.5L788.0 252.0L790.9 240.6L792.9 231.8L804.6 229.8L809.6 234.7L817.5 232.3L820.4 232.8L824.4 241.6L828.3 243.1L831.3 240.6L835.2 234.2L847.1 232.3L852.0 232.3L853.5 229.8" stroke="#33cc33" stroke-width="0.8" fill="none" stroke-linejoin="round"/>
<path d="M729.8 249.5h2v2h-2zM731.8 240.1h2v2h-2zM735.2 234.2h2v2h-2zM743.6 229.3h2v2h-2zM747.5 232.7h2v2h-2zM760.4 228.8h2v2h-2zM765.3 235.2h2v2h-2zM769.2 235.7h2v2h-2zM774.2 232.2h2v2h-2zM777.1 241.6h2v2h-2zM778.1 248.5h2v2h-2zM787.0 251.0h2v2h-2zM789.9 239.6h2v2h-2zM791.9 230.8h2v2h-2zM803.6 228.8h2v2h-2zM808.6 233.7h2v2h-2zM816.5 231.3h2v2h-2zM819.4 231.8h2v2h-2zM823.4 240.6h2v2h-2zM827.3 242.1h2v2h-2zM830.3 239.6h2v2h-2zM834.2 233.2h2v2h-2zM846.1 231.3h2v2h-2zM851.0 231.3h2v2h-2zM852.5 228.8h2v2h-2z" fill="#33cc33"/>
<path d="M83.8 288.7L89.7 290.6L94.7 289.6L98.6 288.2L103.5 289.2L109.5 291.6L115.4 290.6L121.3 285.7L125.2 286.2L129.2 285.7L133.1 289.6L137.1 288.7L141.0 291.1L144.9 290.1L148.9 289.6L153.8 287.7L157.3 285.7L158.9 284.7L161.8 288.7L164.8 291.1L168.7 289.6L173.7 289.6L178.1 284.7L180.6 289.6L183.5 290.6L187.5 293.1L192.4 289.2L197.3 290.1L202.3 291.1L209.2 288.2L213.1 289.2L217.1 291.1L220.0 289.6L223.0 293.1L227.9 290.6L228.9 281.8L229.5 269.9L231.1 256.4L232.3 247.5L234.8 254.9L237.8 244.1L240.7 238.2L243.2 240.6L245.6 250.0L247.6 243.1L249.6 239.7L253.5 241.6L257.5 243.1L262.4 238.2L267.3 237.2L270.3 239.7L274.2 244.1L279.2 242.6L283.1 236.2L287.1 241.6L291.0 242.6L294.9 244.6L299.9 243.6L304.8 243.6L309.9 244.1L312.8 244.6L316.8 242.6L322.7 238.7L325.6 244.6L330.6 254.9L338.0 238.7L341.4 241.6L345.4 240.2L348.3 247.1L355.2 243.1L357.7 237.7L360.6 254.4L362.6 248.5L364.1 236.2L369.0 236.2L371.5 249.5L375.9 241.6L383.8 244.1L388.3 243.6L392.8 236.7L397.8 236.2L400.7 236.7L403.2 233.7L407.6 237.7L412.5 236.2L417.5 235.7L419.9 229.8L422.4 233.2L429.3 236.7L431.3 238.7L433.8 227.8L434.7 234.2L441.1 236.7L445.1 240.6L448.1 236.7L451.0 241.1L454.9 240.2L458.9 236.7L464.8 234.7L468.9 234.7L472.8 229.8L475.3 238.7L477.3 233.7L480.2 249.0L482.7 243.6L489.6 241.1L492.1 236.2L494.5 236.7L497.5 244.6L504.9 234.7L509.3 238.7L518.2 232.3L524.1 235.7L528.0 237.7L535.0 236.7L536.9 241.1L541.9 241.1L547.3 239.7L551.8 241.6L556.8 236.7L559.7 242.6L564.6 256.4L566.6 263.3L568.1 271.8L569.6 258.9L579.5 259.9L586.4 263.9L590.3 258.0L592.8 246.6L595.2 242.6L599.2 238.2L605.1 240.2L611.0 241.6L612.5 242.6" stroke="#c9a2ee" stroke-width="0.8" fill="none" stroke-linejoin="round"/>
<path d="M82.8 287.7h2v2h-2zM88.7 289.6h2v2h-2zM93.7 288.6h2v2h-2zM97.6 287.2h2v2h-2zM102.5 288.2h2v2h-2zM108.5 290.6h2v2h-2zM114.4 289.6h2v2h-2zM120.3 284.7h2v2h-2zM124.2 285.2h2v2h-2zM128.2 284.7h2v2h-2zM132.1 288.6h2v2h-2zM136.1 287.7h2v2h-2zM140.0 290.1h2v2h-2zM143.9 289.1h2v2h-2zM147.9 288.6h2v2h-2zM152.8 286.7h2v2h-2zM156.3 284.7h2v2h-2zM157.9 283.7h2v2h-2zM160.8 287.7h2v2h-2zM163.8 290.1h2v2h-2zM167.7 288.6h2v2h-2zM172.7 288.6h2v2h-2zM177.1 283.7h2v2h-2zM179.6 288.6h2v2h-2zM182.5 289.6h2v2h-2zM186.5 292.1h2v2h-2zM191.4 288.2h2v2h-2zM196.3 289.1h2v2h-2zM201.3 290.1h2v2h-2zM208.2 287.2h2v2h-2zM212.1 288.2h2v2h-2zM216.1 290.1h2v2h-2zM219.0 288.6h2v2h-2zM222.0 292.1h2v2h-2zM226.9 289.6h2v2h-2zM227.9 280.8h2v2h-2zM228.5 268.9h2v2h-2zM230.1 255.4h2v2h-2zM231.3 246.5h2v2h-2zM233.8 253.9h2v2h-2zM236.8 243.1h2v2h-2zM239.7 237.2h2v2h-2zM242.2 239.6h2v2h-2zM244.6 249.0h2v2h-2zM246.6 242.1h2v2h-2zM248.6 238.7h2v2h-2zM252.5 240.6h2v2h-2zM256.5 242.1h2v2h-2zM261.4 237.2h2v2h-2zM266.3 236.2h2v2h-2zM269.3 238.7h2v2h-2zM273.2 243.1h2v2h-2zM278.2 241.6h2v2h-2zM282.1 235.2h2v2h-2zM286.1 240.6h2v2h-2zM290.0 241.6h2v2h-2zM293.9 243.6h2v2h-2zM298.9 242.6h2v2h-2zM303.8 242.6h2v2h-2zM308.9 243.1h2v2h-2zM311.8 243.6h2v2h-2zM315.8 241.6h2v2h-2zM321.7 237.7h2v2h-2zM324.6 243.6h2v2h-2zM329.6 253.9h2v2h-2zM337.0 237.7h2v2h-2zM340.4 240.6h2v2h-2zM344.4 239.2h2v2h-2zM347.3 246.1h2v2h-2zM354.2 242.1h2v2h-2zM356.7 236.7h2v2h-2zM359.6 253.4h2v2h-2zM361.6 247.5h2v2h-2zM363.1 235.2h2v2h-2zM368.0 235.2h2v2h-2zM370.5 248.5h2v2h-2zM374.9 240.6h2v2h-2zM382.8 243.1h2v2h-2zM387.3 242.6h2v2h-2zM391.8 235.7h2v2h-2zM396.8 235.2h2v2h-2zM399.7 235.7h2v2h-2zM402.2 232.7h2v2h-2zM406.6 236.7h2v2h-2zM411.5 235.2h2v2h-2zM416.5 234.7h2v2h-2zM418.9 228.8h2v2h-2zM421.4 232.2h2v2h-2zM428.3 235.7h2v2h-2zM430.3 237.7h2v2h-2zM432.8 226.8h2v2h-2zM433.7 233.2h2v2h-2zM440.1 235.7h2v2h-2zM444.1 239.6h2v2h-2zM447.1 235.7h2v2h-2zM450.0 240.1h2v2h-2zM453.9 239.2h2v2h-2zM457.9 235.7h2v2h-2zM463.8 233.7h2v2h-2zM467.9 233.7h2v2h-2zM471.8 228.8h2v2h-2zM474.3 237.7h2v2h-2zM476.3 232.7h2v2h-2zM479.2 248.0h2v2h-2zM481.7 242.6h2v2h-2zM488.6 240.1h2v2h-2zM491.1 235.2h2v2h-2zM493.5 235.7h2v2h-2zM496.5 243.6h2v2h-2zM503.9 233.7h2v2h-2zM508.3 237.7h2v2h-2zM517.2 231.3h2v2h-2zM523.1 234.7h2v2h-2zM527.0 236.7h2v2h-2zM534.0 235.7h2v2h-2zM535.9 240.1h2v2h-2zM540.9 240.1h2v2h-2zM546.3 238.7h2v2h-2zM550.8 240.6h2v2h-2zM555.8 235.7h2v2h-2zM558.7 241.6h2v2h-2zM563.6 255.4h2v2h-2zM565.6 262.3h2v2h-2zM567.1 270.8h2v2h-2zM568.6 257.9h2v2h-2zM578.5 258.9h2v2h-2zM585.4 262.9h2v2h-2zM589.3 257.0h2v2h-2zM591.8 245.6h2v2h-2zM594.2 241.6h2v2h-2zM598.2 237.2h2v2h-2zM604.1 239.2h2v2h-2zM610.0 240.6h2v2h-2zM611.5 241.6h2v2h-2z" fill="#c9a2ee"/>
<path d="M727.8 261.8L729.8 254.4L731.8 235.7L736.2 231.8L744.6 228.3L749.5 232.8L757.9 228.8L761.8 225.8L764.3 231.8L774.7 231.8L776.6 238.7L779.1 249.5L782.1 251.0L788.0 252.0L790.0 244.6L791.9 231.3L793.9 229.8L804.6 230.3L810.6 233.2L818.0 228.3L822.4 233.7L825.4 241.1L829.3 241.1L834.7 233.7L847.1 231.8L853.5 229.8" stroke="#c9a2ee" stroke-width="0.8" fill="none" stroke-linejoin="round"/>
<path d="M726.8 260.8h2v2h-2zM728.8 253.4h2v2h-2zM730.8 234.7h2v2h-2zM735.2 230.8h2v2h-2zM743.6 227.3h2v2h-2zM748.5 231.8h2v2h-2zM756.9 227.8h2v2h-2zM760.8 224.8h2v2h-2zM763.3 230.8h2v2h-2zM773.7 230.8h2v2h-2zM775.6 237.7h2v2h-2zM778.1 248.5h2v2h-2zM781.1 250.0h2v2h-2zM787.0 251.0h2v2h-2zM789.0 243.6h2v2h-2zM790.9 230.3h2v2h-2zM792.9 228.8h2v2h-2zM803.6 229.3h2v2h-2zM809.6 232.2h2v2h-2zM817.0 227.3h2v2h-2zM821.4 232.7h2v2h-2zM824.4 240.1h2v2h-2zM828.3 240.1h2v2h-2zM833.7 232.7h2v2h-2zM846.1 230.8h2v2h-2zM852.5 228.8h2v2h-2z" fill="#c9a2ee"/>
<rect x="234.5" y="147.5" width="602" height="47" fill="#fff" stroke="#111" stroke-width="1" shape-rendering="crispEdges"/>
<path d="M235.5 148V194M835.5 148V194" stroke="#777" stroke-width="1" fill="none" shape-rendering="crispEdges"/>
<text transform="translate(255.6 163.7) scale(0.92 1)" font-size="14.667" word-spacing="1.7">От 11.03.2009 г. до 09.09.2009 г. и от 02.11.2009 г. до 31.12.2009 г. на работната среда по II-ри</text>
<text transform="translate(418.4 182.7) scale(0.94 1)" font-size="14.667" word-spacing="2">контур 6ЕБ се поддържа АМЕТА ВХР.</text>
<text x="640.6" y="278.8" font-size="14.4" font-weight="bold" textLength="65.3" lengthAdjust="spacing">ПГР`2009</text>
<rect x="162.5" y="479.5" width="606" height="24" fill="#fff" stroke="#000" stroke-width="1"/>
<path d="M166.0 491.3H192.0" stroke="#3b5fc6" stroke-width="1"/>
<rect x="177.0" y="489.2" width="2" height="2" fill="#3b5fc6"/>
<text x="196.4" y="495.9" font-size="14" textLength="96" lengthAdjust="spacing">6YB10W01 du80</text>
<path d="M297.8 491.3H323.8" stroke="#c41216" stroke-width="1"/>
<rect x="308.8" y="489.2" width="2" height="2" fill="#c41216"/>
<text x="327.5" y="495.9" font-size="14" textLength="96" lengthAdjust="spacing">6YB20W01 du80</text>
<path d="M430.0 491.3H456.0" stroke="#33cc33" stroke-width="1"/>
<rect x="441.0" y="489.2" width="2" height="2" fill="#33cc33"/>
<text x="459.7" y="495.9" font-size="14" textLength="96" lengthAdjust="spacing">6YB30W01 du80</text>
<path d="M562.0 491.3H588.0" stroke="#c9a2ee" stroke-width="1"/>
<rect x="573.0" y="489.2" width="2" height="2" fill="#c9a2ee"/>
<text x="591.5" y="495.9" font-size="14" textLength="96" lengthAdjust="spacing">6YB40W01 du80</text>
<path d="M693.3 490.9H720.7" stroke="#d80fd0" stroke-width="2.3"/>
<text x="723" y="495.9" font-size="14" textLength="40.6" lengthAdjust="spacing">Норма</text>
</svg></body></html>
